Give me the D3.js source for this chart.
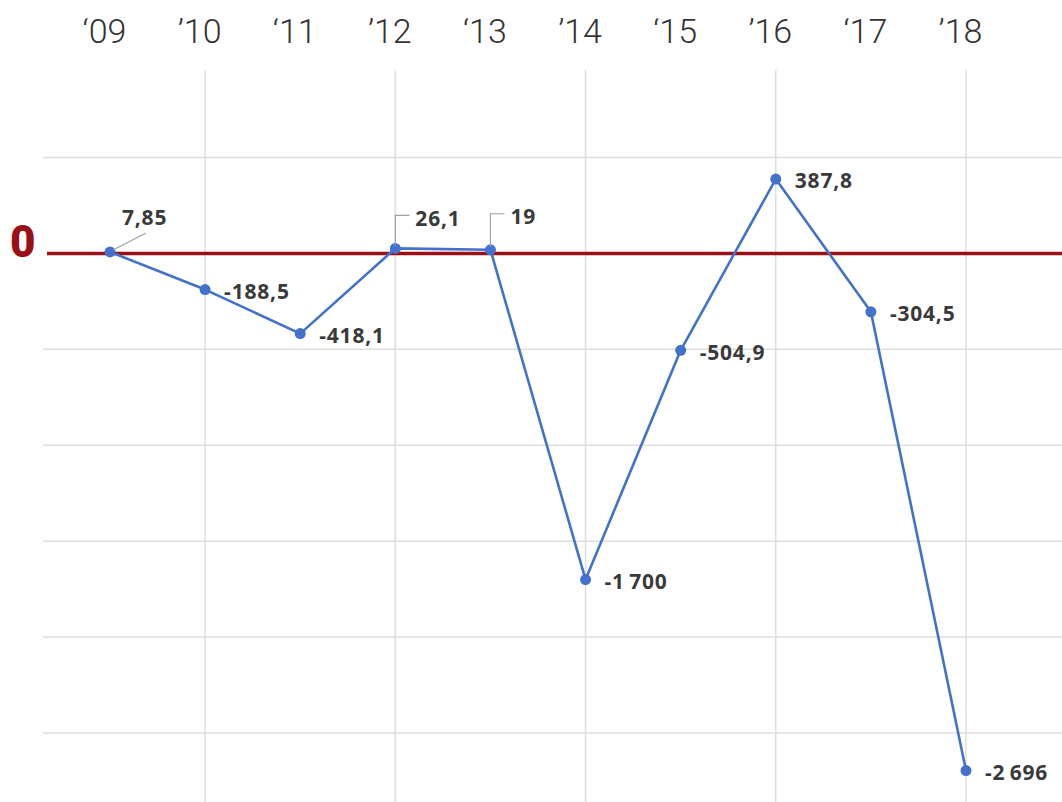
<!DOCTYPE html>
<html>
<head>
<meta charset="utf-8">
<script src="https://cdn.jsdelivr.net/npm/d3@7"></script>
<style>
  html, body { margin: 0; padding: 0; background: #fff; }
  svg { display: block; }
  .year { font-family: Roboto, "Open Sans", sans-serif; font-weight: 300; font-size: 34px; fill: #333; }
  .val { font-family: "Open Sans", Roboto, sans-serif; font-weight: 700; font-size: 21px; letter-spacing: 0.8px; fill: #3a3a3a; }
  .zero { font-family: Roboto, sans-serif; font-weight: 900; font-size: 44px; fill: #9b0f16; }
</style>
</head>
<body>
<svg id="chart" width="1062" height="802"></svg>
<script>
// Years and the yearly balance
const years = ["2009", "2010", "2011", "2012", "2013", "2014", "2015", "2016", "2017", "2018"];
const yearLabels = ["\u201809", "\u201910", "\u201811", "\u201912", "\u201813", "\u201914", "\u201815", "\u201916", "\u201817", "\u201918"];
const balance = [7.85, -188.5, -418.1, 26.1, 19, -1700, -504.9, 387.8, -304.5, -2696];
const gridValues = [500, -500, -1000, -1500, -2000, -2500];
const verticalGridYears = ["2010", "2012", "2014", "2016", "2018"];

const W = 1062, H = 802;
const svg = d3.select("#chart");

const x = d3.scalePoint().domain(years).range([110, 966]);
const y = d3.scaleLinear().domain([500, -2500]).range([157.5, 733]);

const locale = d3.formatLocale({ decimal: ",", thousands: "\u2009", grouping: [3], currency: ["", ""], minus: "-" });
const fmt = locale.format(",.4~r");

// horizontal grid
svg.append("g").selectAll("line").data(gridValues).join("line")
  .attr("x1", 43).attr("x2", W)
  .attr("y1", d => y(d)).attr("y2", d => y(d))
  .attr("stroke", "#dedede").attr("stroke-width", 1.5);

// vertical grid on every other year
svg.append("g").selectAll("line").data(verticalGridYears).join("line")
  .attr("x1", d => x(d)).attr("x2", d => x(d))
  .attr("y1", 70).attr("y2", H)
  .attr("stroke", "#dedede").attr("stroke-width", 1.5);

// year labels along the top
const xAxis = d3.axisTop(x).tickSize(0).tickFormat((d, i) => yearLabels[i]);
const gx = svg.append("g").attr("transform", "translate(-6,43)").call(xAxis);
gx.select(".domain").remove();
gx.selectAll("text").attr("class", "year").attr("dy", 0).attr("y", 0);

// zero baseline
svg.append("line")
  .attr("x1", 47).attr("x2", W)
  .attr("y1", y(0)).attr("y2", y(0))
  .attr("stroke", "#9b0f16").attr("stroke-width", 3.5);
svg.append("text").attr("class", "zero")
  .attr("x", 10).attr("y", y(0) + 4).text("0");

// series line
const pts = years.map((yr, i) => ({ yr, v: balance[i] }));
svg.append("path").datum(pts)
  .attr("fill", "none").attr("stroke", "#4471cc").attr("stroke-width", 2.6)
  .attr("stroke-linejoin", "round")
  .attr("d", d3.line().x(d => x(d.yr)).y(d => y(d.v)));

svg.append("g").selectAll("circle").data(pts).join("circle")
  .attr("cx", d => x(d.yr)).attr("cy", d => y(d.v)).attr("r", 5.5)
  .attr("fill", "#4471cc");

// leader lines for values sitting on the zero line
const leaders = svg.append("g").attr("stroke", "#a0a0a0").attr("stroke-width", 1.2).attr("fill", "none");
const labels = svg.append("g");
pts.forEach(d => {
  const px = x(d.yr), py = y(d.v);
  if (d.yr === "2009") {
    leaders.append("path").attr("d", `M${px + 3},${py - 2} L${px + 36},${py - 19}`);
    labels.append("text").attr("class", "val").attr("x", px + 12).attr("y", py - 27).text(fmt(d.v));
  } else if (d.yr === "2012" || d.yr === "2013") {
    const top = d.yr === "2012" ? py - 33 : py - 36;
    leaders.append("path").attr("d", `M${px},${py - 3} V${top} H${px + 14}`);
    labels.append("text").attr("class", "val").attr("x", px + 20).attr("y", top + 6).attr("dy", "0.2em").text(fmt(d.v));
  } else {
    labels.append("text").attr("class", "val").attr("x", px + 19).attr("y", py + 2).attr("dy", "0.35em").text(fmt(d.v));
  }
});
</script>
</body>
</html>
